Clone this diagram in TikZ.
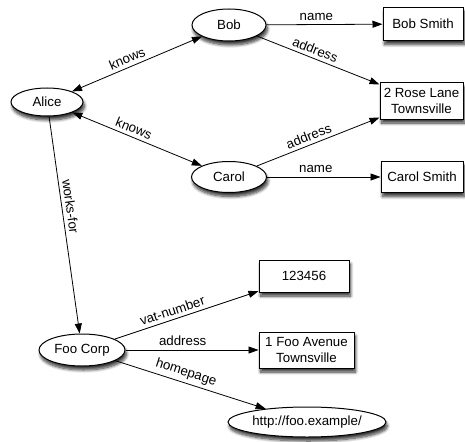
\documentclass[tikz,border=0pt]{standalone}
\usepackage{fontspec}
\setmainfont{Liberation Sans}
\usetikzlibrary{arrows.meta,shapes.geometric,shadows.blur}

\tikzset{
  every node/.style={font=\fontsize{13.3}{15.5}\selectfont},
  softshadow/.style={blur shadow={shadow xshift=1.5pt, shadow yshift=-4pt,
      shadow blur radius=3pt, shadow blur steps=8, shadow opacity=80}},
  res/.style={ellipse, draw, line width=1pt, fill=white, inner sep=0pt, softshadow},
  lit/.style={rectangle, draw, line width=1pt, fill=white, inner sep=0pt,
      align=center, softshadow},
  rel/.style={line width=0.8pt, -{Triangle[length=10pt,width=7pt]}},
  both/.style={line width=0.8pt,
      {Triangle[length=10pt,width=7pt]}-{Triangle[length=10pt,width=7pt]}},
  lbl/.style={sloped, above, pos=0.45, inner sep=3.5pt}
}

\begin{document}
\begin{tikzpicture}[x=1pt, y=-1pt]
  \useasboundingbox (0,0) rectangle (465,441);

  % resources
  \node[res, minimum width=72pt, minimum height=28pt] (alice) at (47,102) {Alice};
  \node[res, minimum width=74pt, minimum height=32pt] (bob) at (229,25) {Bob};
  \node[res, minimum width=75pt, minimum height=31pt] (carol) at (229,177) {Carol};
  \node[res, minimum width=86pt, minimum height=32pt] (foo) at (82,350) {Foo Corp};
  \node[res, minimum width=158pt, minimum height=30pt] (home) at (307,422) {http://foo.example/};

  % literals
  \node[lit, minimum width=80pt, minimum height=33pt] (bobname) at (423,24) {Bob Smith};
  \node[lit, minimum width=83pt, minimum height=36pt] (rose) at (421.5,101) {2 Rose Lane\\Townsville};
  \node[lit, minimum width=82pt, minimum height=31pt] (carolname) at (422,177) {Carol Smith};
  \node[lit, minimum width=90pt, minimum height=32pt] (vat) at (304,276) {123456};
  \node[lit, minimum width=95pt, minimum height=36pt] (fooaddr) at (306.5,350) {1 Foo Avenue\\Townsville};

  % properties
  \draw[both] (alice) -- node[lbl]{knows} (bob);
  \draw[both] (alice) -- node[lbl]{knows} (carol);
  \draw[rel] (alice) -- node[lbl, pos=0.42]{works-for} (foo);

  \draw[rel] (bob) -- node[lbl, pos=0.43]{name} (bobname);
  \draw[rel] (bob) -- node[lbl]{address} (rose);
  \draw[rel] (carol) -- node[lbl]{address} (rose);
  \draw[rel] (carol) -- node[lbl, pos=0.43]{name} (carolname);

  \draw[rel] (foo) -- node[lbl, pos=0.42]{vat-number} (vat);
  \draw[rel] (foo) -- node[lbl, pos=0.43]{address} (fooaddr);
  \draw[rel] (foo) -- node[lbl]{homepage} (home);
\end{tikzpicture}
\end{document}
